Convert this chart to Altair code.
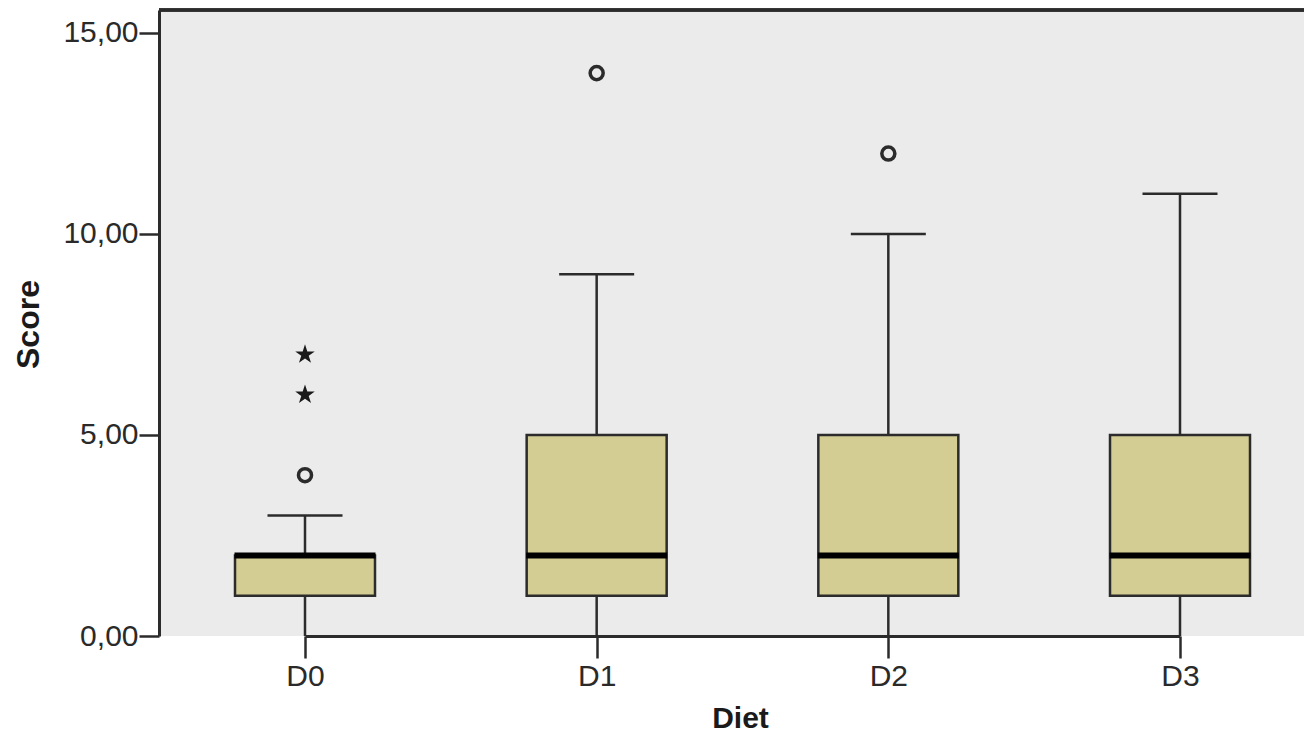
import altair as alt
import pandas as pd

cats = ["D0", "D1", "D2", "D3"]
mins = [0, 0, 0, 0]
q1s = [1, 1, 1, 1]
medians = [2, 2, 2, 2]
q3s = [2, 5, 5, 5]
maxs = [3, 9, 10, 11]

circle_cats = ["D0", "D1", "D2"]
circle_vals = [4, 14, 12]

star_cats = ["D0", "D0"]
star_vals = [6, 7]

y_ticks = [0, 5, 10, 15]

W, H = 1145, 626
INK = "#2b2b2b"

boxes = pd.DataFrame({"Diet": cats, "lo": mins, "q1": q1s, "med": medians,
                      "q3": q3s, "hi": maxs})
circles = pd.DataFrame({"Diet": circle_cats, "Score": circle_vals})
stars = pd.DataFrame({"Diet": star_cats, "Score": star_vals})

xscale = alt.Scale(type="point", domain=cats, range=[146, 1021], padding=0)
yscale = alt.Scale(domain=[0, 15.57], nice=False, zero=False)

x_enc = alt.X("Diet:N", scale=xscale, sort=cats,
              axis=alt.Axis(title="Diet", titleX=581, titleY=82,
                            titleBaseline="middle", titleAlign="center",
                            titleFontSize=30, titleFontWeight="bold",
                            titleColor="#1a1a1a", titleFont="Liberation Sans",
                            labelFont="Liberation Sans", labelFontSize=30,
                            labelColor="#2a2a2a", labelPadding=3,
                            labelAngle=0, tickSize=22, tickWidth=2.5,
                            tickColor=INK, domainColor=INK, domainWidth=3,
                            grid=False))

y_axis = alt.Axis(title="Score", titleX=-131, titleY=314, titleAngle=270,
                  titleBaseline="middle", titleAlign="center",
                  titleFontSize=32, titleFontWeight="bold",
                  titleColor="#1a1a1a", titleFont="Liberation Sans",
                  labelFont="Liberation Sans", labelFontSize=30,
                  labelColor="#2a2a2a", labelPadding=1,
                  values=y_ticks,
                  labelExpr="replace(format(datum.value, '.2f'), '.', ',')",
                  tickSize=20, tickWidth=2.5, tickColor=INK,
                  domainColor=INK, domainWidth=3, grid=False)

whisk = alt.Chart(boxes).mark_rule(color=INK, strokeWidth=2.5).encode(
    x=x_enc,
    y=alt.Y("lo:Q", scale=yscale, axis=y_axis),
    y2="hi:Q",
)

caps = alt.Chart(boxes).mark_tick(color=INK, size=75, thickness=2.5,
                                  opacity=1).encode(
    x=alt.X("Diet:N", scale=xscale, sort=cats),
    y=alt.Y("hi:Q", scale=yscale),
)

box = alt.Chart(boxes).mark_bar(size=140, fill="#D3CD93", stroke=INK,
                                strokeWidth=2.5, opacity=1).encode(
    x=alt.X("Diet:N", scale=xscale, sort=cats),
    y=alt.Y("q1:Q", scale=yscale),
    y2="q3:Q",
)

med = alt.Chart(boxes).mark_tick(color="#000000", size=141, thickness=6,
                                 opacity=1).encode(
    x=alt.X("Diet:N", scale=xscale, sort=cats),
    y=alt.Y("med:Q", scale=yscale),
)

circ = alt.Chart(circles).mark_point(shape="circle", size=170, filled=False,
                                     stroke=INK, strokeWidth=3.5,
                                     opacity=1).encode(
    x=alt.X("Diet:N", scale=xscale, sort=cats),
    y=alt.Y("Score:Q", scale=yscale),
)

STAR = ("M0,-1L0.2245,-0.309L0.951,-0.309L0.363,0.118L0.588,0.809L0,0.382"
        "L-0.588,0.809L-0.363,0.118L-0.951,-0.309L-0.2245,-0.309Z")
star = alt.Chart(stars).mark_point(shape=STAR, size=420, filled=True,
                                   fill="#1a1a1a", strokeWidth=0,
                                   opacity=1).encode(
    x=alt.X("Diet:N", scale=xscale, sort=cats),
    y=alt.Y("Score:Q", scale=yscale),
)

top = alt.Chart(boxes).mark_rule(color=INK, strokeWidth=3).encode(
    y=alt.value(0), x=alt.value(0), x2=alt.value(W)
)

chart = alt.layer(whisk, caps, box, med, circ, star, top).properties(
    width=W, height=H,
    autosize=alt.AutoSizeParams(type="none"),
    padding={"left": 151, "top": 2, "right": 0, "bottom": 96},
    background="white",
).configure_view(stroke=None, fill="#EBEBEB")

chart.save("out.html", embed_options={"renderer": "svg", "actions": False})
